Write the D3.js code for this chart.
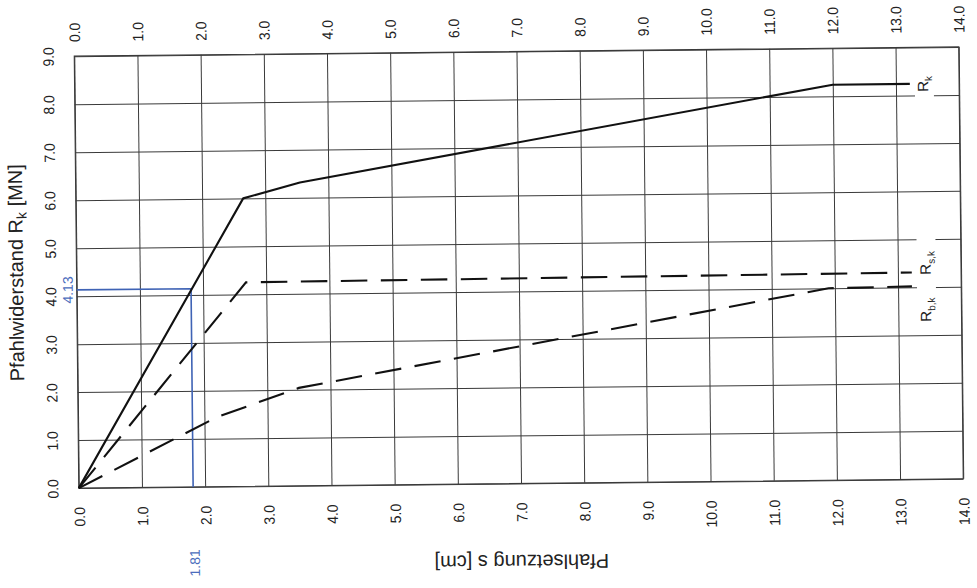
<!DOCTYPE html>
<html>
<head>
<meta charset="utf-8">
<script src="https://cdn.jsdelivr.net/npm/d3@7"></script>
<style>
  html, body { margin: 0; padding: 0; background: #fff; }
  svg { display: block; font-family: "Liberation Sans", Arial, sans-serif; }
</style>
</head>
<body>
<svg id="chart" width="977" height="588"></svg>
<script>
// ---- data ----
const xTicks = [0,1,2,3,4,5,6,7,8,9,10,11,12,13,14];
const yTicks = [0,1,2,3,4,5,6,7,8,9];

// R_k (solid)
const rkS = [0, 2.65, 3.55, 12.0, 13.22];
const rkR = [0, 6.0, 6.32, 8.24, 8.24];
// R_s,k (dashed)
const rsS = [0, 2.68, 13.22];
const rsR = [0, 4.25, 4.31];
// R_b,k (dashed)
const rbS = [0, 2.2, 3.5, 11.9, 13.22];
const rbR = [0, 1.45, 2.04, 4.0, 4.02];

// marked point
const markS = 1.81;
const markR = 4.13;

const xTitle = "Pfahlsetzung s [cm]";
const curveLabels = [
  { main: "R", sub: "k",   s: 13.51, r: 8.07 },
  { main: "R", sub: "s,k", s: 13.52, r: 4.26 },
  { main: "R", sub: "b,k", s: 13.52, r: 3.28 }
];

// ---- layout ----
const L = 76.5, R = 961, T = 51.5, B = 483.5;
const svg = d3.select("#chart");
svg.append("rect").attr("width", 977).attr("height", 588).attr("fill", "#fff");
const g = svg.append("g").attr("transform", "rotate(-0.6 518.75 267.5)");

const x = d3.scaleLinear().domain([0, 14]).range([L, R]);
const y = d3.scaleLinear().domain([0, 9]).range([B, T]);
const fmt = d3.format(".1f");
const gridColor = "#3a3a3a";
const textColor = "#222";

// bottom axis with vertical gridlines
const gx = g.append("g").attr("transform", `translate(0,${B})`)
  .call(d3.axisBottom(x).tickValues(xTicks).tickSize(-(B - T)).tickFormat(fmt));
gx.select(".domain").remove();
gx.selectAll("line").attr("stroke", gridColor).attr("stroke-width", 1);
gx.selectAll("text")
  .attr("x", null).attr("y", null).attr("dy", null)
  .attr("transform", "translate(5.5,19) rotate(-90) scale(0.93,1)")
  .attr("text-anchor", "end")
  .attr("font-size", 15).attr("fill", textColor);

// top axis labels
const gxt = g.append("g").attr("transform", `translate(0,${T})`)
  .call(d3.axisTop(x).tickValues(xTicks).tickSize(0).tickFormat(fmt));
gxt.select(".domain").remove();
gxt.selectAll("text")
  .attr("x", null).attr("y", null).attr("dy", null)
  .attr("transform", "translate(5.5,-14) rotate(-90) scale(0.93,1)")
  .attr("text-anchor", "start")
  .attr("font-size", 15).attr("fill", textColor);

// left axis with horizontal gridlines
const gy = g.append("g").attr("transform", `translate(${L},0)`)
  .call(d3.axisLeft(y).tickValues(yTicks).tickSize(-(R - L)).tickFormat(fmt));
gy.select(".domain").remove();
gy.selectAll("line").attr("stroke", gridColor).attr("stroke-width", 1);
gy.selectAll("text")
  .attr("x", null).attr("y", null).attr("dy", null)
  .attr("transform", "translate(-20.5,0) rotate(-90) scale(0.93,1)")
  .attr("text-anchor", "middle")
  .attr("font-size", 15).attr("fill", textColor);

// frame
g.append("rect").attr("x", L).attr("y", T).attr("width", R - L).attr("height", B - T)
  .attr("fill", "none").attr("stroke", gridColor).attr("stroke-width", 1.1);

// gaps in gridlines behind curve labels
g.append("rect").attr("x", x(13.3)).attr("width", x(13.6) - x(13.3))
  .attr("y", y(8.5)).attr("height", y(7.9) - y(8.5)).attr("fill", "#fff");
g.append("rect").attr("x", x(13.3)).attr("width", x(13.6) - x(13.3))
  .attr("y", y(5.15)).attr("height", y(3.2) - y(5.15)).attr("fill", "#fff");

// marker (blue)
const line = d3.line().x(d => x(d[0])).y(d => y(d[1]));
g.append("path")
  .attr("d", line([[0, markR], [markS, markR], [markS, 0]]))
  .attr("fill", "none").attr("stroke", "#3f63b5").attr("stroke-width", 1.6);

// curves
function pts(s, r) { return s.map((v, i) => [v, r[i]]); }
g.append("path").attr("d", line(pts(rkS, rkR)))
  .attr("fill", "none").attr("stroke", "#111").attr("stroke-width", 2.1)
  .attr("stroke-linejoin", "round");
g.append("path").attr("d", line(pts(rsS, rsR)))
  .attr("fill", "none").attr("stroke", "#111").attr("stroke-width", 2.1)
  .attr("stroke-dasharray", "26.5,13.5");
g.append("path").attr("d", line(pts(rbS, rbR)))
  .attr("fill", "none").attr("stroke", "#111").attr("stroke-width", 2.1)
  .attr("stroke-dasharray", "26.5,13.5");

// curve labels
curveLabels.forEach(c => {
  const t = g.append("text")
    .attr("transform", `translate(${x(c.s)},${y(c.r)}) rotate(-90)`)
    .attr("text-anchor", "start").attr("font-size", 15).attr("fill", textColor);
  t.append("tspan").text(c.main);
  t.append("tspan").attr("font-size", 10).attr("dy", 4).text(c.sub);
});

// blue value labels
g.append("text")
  .attr("transform", `translate(${L - 4},${y(markR)}) rotate(-90)`)
  .attr("text-anchor", "middle").attr("font-size", 14).attr("fill", "#4a6cbc")
  .text(fmt(markR).length ? markR.toFixed(2) : "");
g.append("text")
  .attr("transform", `translate(${x(markS) + 6},${B + 76}) rotate(-90)`)
  .attr("text-anchor", "middle").attr("font-size", 14).attr("fill", "#4a6cbc")
  .text(markS.toFixed(2));

// axis titles
const yt = g.append("text")
  .attr("transform", `translate(23,${(T + B) / 2}) rotate(-90)`)
  .attr("text-anchor", "middle").attr("font-size", 20).attr("fill", textColor);
yt.append("tspan").text("Pfahlwiderstand R");
yt.append("tspan").attr("font-size", 14).attr("dy", 4).text("k");
yt.append("tspan").attr("dy", -4).text(" [MN]");

g.append("text")
  .attr("transform", `translate(${(L + R) / 2},555) rotate(180)`)
  .attr("text-anchor", "middle").attr("font-size", 20).attr("fill", textColor)
  .text(xTitle);
</script>
</body>
</html>
